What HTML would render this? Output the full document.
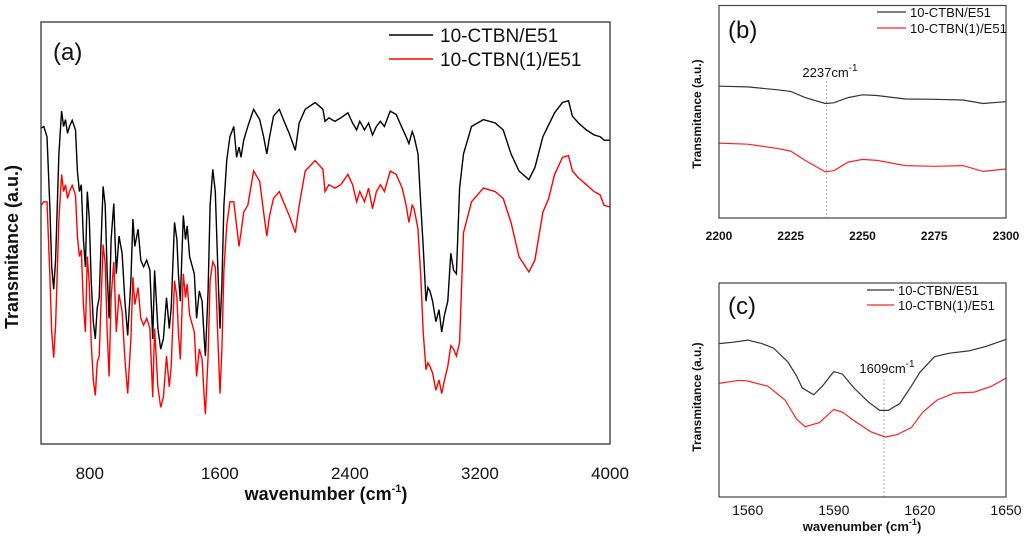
<!DOCTYPE html>
<html><head><meta charset="utf-8"><style>
html,body{margin:0;padding:0;background:#fff;width:1024px;height:538px;overflow:hidden}
svg{display:block;font-family:"Liberation Sans",Arial,sans-serif}
</style></head><body>
<svg id="fig" width="1024" height="538" viewBox="0 0 1024 538" xmlns="http://www.w3.org/2000/svg">
<g id="pa"></g>
<g id="pb"></g>
<g id="pc"></g>
</svg>
<script>
// ---------- Panel (a) data ----------
const aWavenumbers=[500,517,537,554,566,578,590,610,627,639,651,663,675,692,712,724,736,748,761,773,785,797,809,822,834,846,858,870,882,895,907,919,931,948,963,980,999,1016,1033,1053,1065,1077,1097,1114,1131,1150,1170,1187,1199,1219,1236,1253,1272,1289,1301,1321,1336,1345,1357,1375,1389,1399,1414,1431,1443,1457,1474,1491,1504,1511,1528,1540,1557,1572,1589,1601,1613,1625,1642,1662,1686,1703,1718,1730,1747,1772,1808,1845,1869,1889,1906,1930,1966,1991,2027,2064,2088,2125,2186,2234,2247,2271,2308,2344,2388,2417,2441,2461,2490,2515,2539,2563,2588,2612,2648,2685,2722,2746,2763,2783,2795,2819,2836,2851,2868,2880,2892,2909,2929,2948,2965,2982,3002,3021,3038,3055,3075,3099,3148,3221,3294,3343,3391,3440,3501,3538,3587,3623,3659,3708,3745,3769,3806,3854,3903,3940,3964,4000];
const aBlack=[925,930,900,700,520,455,540,850,975,930,950,910,930,948,920,800,740,760,600,520,740,660,480,360,310,400,430,600,755,700,500,370,600,705,500,610,560,420,320,480,660,580,630,540,520,540,510,310,510,340,280,310,430,340,400,650,600,500,420,670,600,640,550,520,500,370,450,420,310,260,450,700,805,740,500,340,470,700,830,900,930,840,870,840,890,930,980,950,900,850,900,960,980,950,910,860,940,980,1000,980,945,955,945,955,970,940,920,945,920,940,905,930,945,930,975,965,925,900,880,915,900,850,700,580,420,460,450,420,360,395,330,380,420,560,510,500,750,850,930,950,940,920,850,800,775,810,900,935,970,1000,1005,960,940,920,905,900,890,890];
const aRed=[700,710,710,500,330,255,350,660,790,740,760,720,740,758,730,610,550,570,410,330,550,470,300,190,145,240,260,430,585,530,330,200,430,535,330,440,390,250,150,310,490,410,460,370,350,370,340,140,340,170,110,140,260,170,230,480,430,330,250,500,430,470,380,350,330,200,280,250,140,90,260,480,535,520,300,150,280,510,640,710,710,640,580,620,680,700,800,770,680,610,670,720,740,710,670,620,700,800,830,805,740,760,750,760,790,760,710,740,710,750,690,740,760,740,800,790,750,700,650,700,690,630,490,330,220,240,230,210,160,190,150,190,230,290,280,260,300,620,710,750,740,720,650,550,505,540,680,720,790,840,845,800,780,760,740,730,700,695];
const aXTicks=[800,1600,2400,3200,4000];
// ---------- Panel (b) data ----------
const bWavenumbers=[2200,2210,2220,2225,2230,2237,2240,2245,2250,2255,2265,2275,2285,2292,2300];
const bBlack=[382,380,372,367,349,332,334,349,357,355,345,344,342,332,337];
const bRed=[217,214,202,194,167,134,137,162,170,167,152,150,152,135,142];
const bXTicks=[2200,2225,2250,2275,2300];
const bMarker=2237.5;
// ---------- Panel (c) data ----------
const cBlackX=[1550,1555,1560,1565,1569,1574,1577,1579,1583,1586,1590,1593,1597,1602,1606,1609,1613,1617,1620,1625,1630,1637,1643,1650];
const cBlack=[443,447,453,443,430,390,350,315,295,320,362,355,315,275,250,250,270,320,360,405,415,422,435,455];
const cRedX=[1550,1557,1560,1567,1573,1577,1580,1585,1590,1593,1598,1603,1608,1612,1617,1621,1626,1632,1639,1645,1650];
const cRed=[328,337,335,320,280,225,203,215,253,245,215,188,173,180,200,245,280,300,303,320,343];
const cXTicks=[1560,1590,1620,1650];
const cMarker=1607.5;

const NS="http://www.w3.org/2000/svg";
function mk(parent,tag,attrs,text){const e=document.createElementNS(NS,tag);for(const k in attrs)e.setAttribute(k,attrs[k]);if(text!==undefined)e.textContent=text;parent.appendChild(e);return e;}
function scale(d0,d1,r0,r1){return v=>r0+(v-d0)*(r1-r0)/(d1-d0);}
function pathFrom(xs,ys,sx,sy){return xs.map((x,i)=>(i?'L':'M')+sx(x).toFixed(1)+','+sy(ys[i]).toFixed(1)).join('');}

// ---------- Panel A ----------
(function(){
const g=document.getElementById('pa');
const L=41,R=610,T=22,B=444;
const sx=scale(500,4000,L,R), sy=scale(3,1235,B,T);
let p=mk(g,'path',{d:pathFrom(aWavenumbers,aBlack,sx,sy),fill:'none',stroke:'#000','stroke-width':1.4});


p=mk(g,'path',{d:pathFrom(aWavenumbers,aRed,sx,sy),fill:'none',stroke:'#f00','stroke-width':1.4});


const box=mk(g,'rect',{x:L,y:T,width:R-L,height:B-T,fill:'none',stroke:'#333','stroke-width':1.3});


aXTicks.forEach(t=>{
 const tx=mk(g,'text',{x:sx(t),y:479,'font-size':17,'text-anchor':'middle',fill:'#111'},String(t));
 
 
});
const xt=mk(g,'text',{x:326,y:500,'font-size':18,'font-weight':'bold','text-anchor':'middle',fill:'#111'});


xt.innerHTML='wavenumber (cm<tspan font-size="11" dy="-8">-1</tspan><tspan dy="8">)</tspan>';
const yt=mk(g,'text',{x:0,y:0,'font-size':18,'font-weight':'bold','text-anchor':'middle',fill:'#111',transform:'translate(18,247) rotate(-90)'},'Transmitance (a.u.)');


const lab=mk(g,'text',{x:53,y:60,'font-size':24,fill:'#111'},'(a)');


[['10-CTBN/E51','#000',35],['10-CTBN(1)/E51','#f00',59]].forEach(([n,c,y])=>{
 const l=mk(g,'line',{x1:389,x2:433,y1:y,y2:y,stroke:c,'stroke-width':1.5});
 
 
 const t=mk(g,'text',{x:440,y:y+7,'font-size':19,fill:'#111'},n);
 
 
});
})();

// ---------- Panels B and C ----------
function small(gid,opt){
const g=document.getElementById(gid);
const L=719,R=1006,T=opt.T,B=opt.B;
const sx=scale(opt.x0,opt.x1,L,R), sy=scale(0,opt.ymax,B,T);
const mkr=mk(g,'line',{x1:sx(opt.marker),x2:sx(opt.marker),y1:sy(opt.markerTop),y2:B,stroke:'#aaa','stroke-width':1,'stroke-dasharray':'2,2'});


let p=mk(g,'path',{d:pathFrom(opt.bx,opt.by,sx,sy),fill:'none',stroke:'#333','stroke-width':1.2});


p=mk(g,'path',{d:pathFrom(opt.rx,opt.ry,sx,sy),fill:'none',stroke:'#f22','stroke-width':1.2});


const box=mk(g,'rect',{x:L,y:T,width:R-L,height:B-T,fill:'none',stroke:'#444','stroke-width':1.2});


opt.ticks.forEach(t=>{
 const tx=mk(g,'text',{x:sx(t),y:opt.tickY,'font-size':opt.tickSize,'font-weight':opt.tickBold?'bold':'normal','text-anchor':'middle',fill:'#111'},String(t));
 
 
});
const yt=mk(g,'text',{x:0,y:0,'font-size':12,'font-weight':'bold','text-anchor':'middle',fill:'#111',transform:'translate(701,'+opt.ytY+') rotate(-90)'},'Transmitance (a.u.)');


const lab=mk(g,'text',{x:728,y:opt.labY,'font-size':24,fill:'#111'},opt.label);


const pk=mk(g,'text',{x:opt.pkX,y:opt.pkY,'font-size':13,'text-anchor':'middle',fill:'#111'});


pk.innerHTML=opt.pk+'cm<tspan font-size="10" dy="-6">-1</tspan>';
[['10-CTBN/E51','#333',opt.legY[0]],['10-CTBN(1)/E51','#f22',opt.legY[1]]].forEach(([n,c,y])=>{
 const l=mk(g,'line',{x1:opt.legX[0],x2:opt.legX[1],y1:y,y2:y,stroke:c,'stroke-width':1.2});
 
 
 const t=mk(g,'text',{x:opt.legX[1]+4,y:y+5,'font-size':13,fill:'#111'},n);
 
 
});
if(opt.xtitle){
 const xt=mk(g,'text',{x:862,y:531,'font-size':13,'font-weight':'bold','text-anchor':'middle',fill:'#111'});
 
 
 xt.innerHTML='wavenumber (cm<tspan font-size="9" dy="-6">-1</tspan><tspan dy="6">)</tspan>';
}
}
small('pb',{T:5.5,B:218,x0:2200,x1:2300,ymax:616,bx:bWavenumbers,by:bBlack,rx:bWavenumbers,ry:bRed,ticks:bXTicks,tickY:240,tickSize:12,tickBold:true,marker:bMarker,markerTop:397,ytY:114,labY:38,label:'(b)',pk:'2237',pkX:830,pkY:77,legX:[877,906],legY:[12,28],xtitle:false});
small('pc',{T:283,B:497,x0:1550,x1:1650,ymax:618,bx:cBlackX,by:cBlack,rx:cRedX,ry:cRed,ticks:cXTicks,tickY:515,tickSize:14,tickBold:false,marker:cMarker,markerTop:340,ytY:397,labY:314,label:'(c)',pk:'1609',pkX:887,pkY:373,legX:[867,894],legY:[290,305],xtitle:true});
</script>
</body></html>
